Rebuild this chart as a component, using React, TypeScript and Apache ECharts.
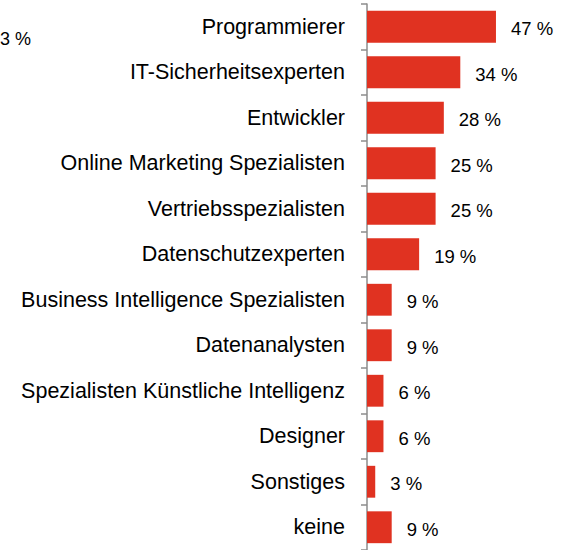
import React, { useEffect, useRef } from "react";
import * as echarts from "echarts";

const categories = [
  "Programmierer",
  "IT-Sicherheitsexperten",
  "Entwickler",
  "Online Marketing Spezialisten",
  "Vertriebsspezialisten",
  "Datenschutzexperten",
  "Business Intelligence Spezialisten",
  "Datenanalysten",
  "Spezialisten Künstliche Intelligenz",
  "Designer",
  "Sonstiges",
  "keine",
];
const values = [47, 34, 28, 25, 25, 19, 9, 9, 6, 6, 3, 9];
const strayLabel = "3 %";

const FONT = "'Liberation Sans', Arial, sans-serif";

export default function App() {
  const ref = useRef<HTMLDivElement>(null);
  useEffect(() => {
    if (!ref.current) return;
    const chart = echarts.init(ref.current, null, { renderer: "svg" });
    chart.setOption({
      animation: false,
      backgroundColor: "#ffffff",
      grid: { left: 367, top: 4, width: 137.2, height: 549, containLabel: false },
      xAxis: { type: "value", min: 0, max: 50, show: false },
      yAxis: {
        type: "category",
        inverse: true,
        data: categories,
        axisLine: { show: true, lineStyle: { color: "#8c8c8c", width: 1.5 } },
        axisTick: { show: true, length: 6, lineStyle: { color: "#8c8c8c", width: 1.5 } },
        axisLabel: {
          margin: 22,
          color: "#000",
          fontSize: 21.5,
          fontFamily: FONT,
          padding: [3, 0, 0, 0],
        },
      },
      series: [
        {
          type: "bar",
          data: values,
          barCategoryGap: "30%",
          itemStyle: { color: "#E03221" },
          label: {
            show: true,
            position: "right",
            distance: 15,
            offset: [0, 2],
            formatter: "{c} %",
            color: "#000",
            fontSize: 18.5,
            fontFamily: FONT,
          },
        },
      ],
      graphic: [
        {
          type: "text",
          left: 0,
          top: 30,
          style: { text: strayLabel, fill: "#000", fontSize: 18, fontFamily: FONT },
        },
      ],
    });
    return () => chart.dispose();
  }, []);
  return (
    <div
      ref={ref}
      style={{ position: "absolute", left: 0, top: 0, width: 572, height: 550 }}
    />
  );
}
